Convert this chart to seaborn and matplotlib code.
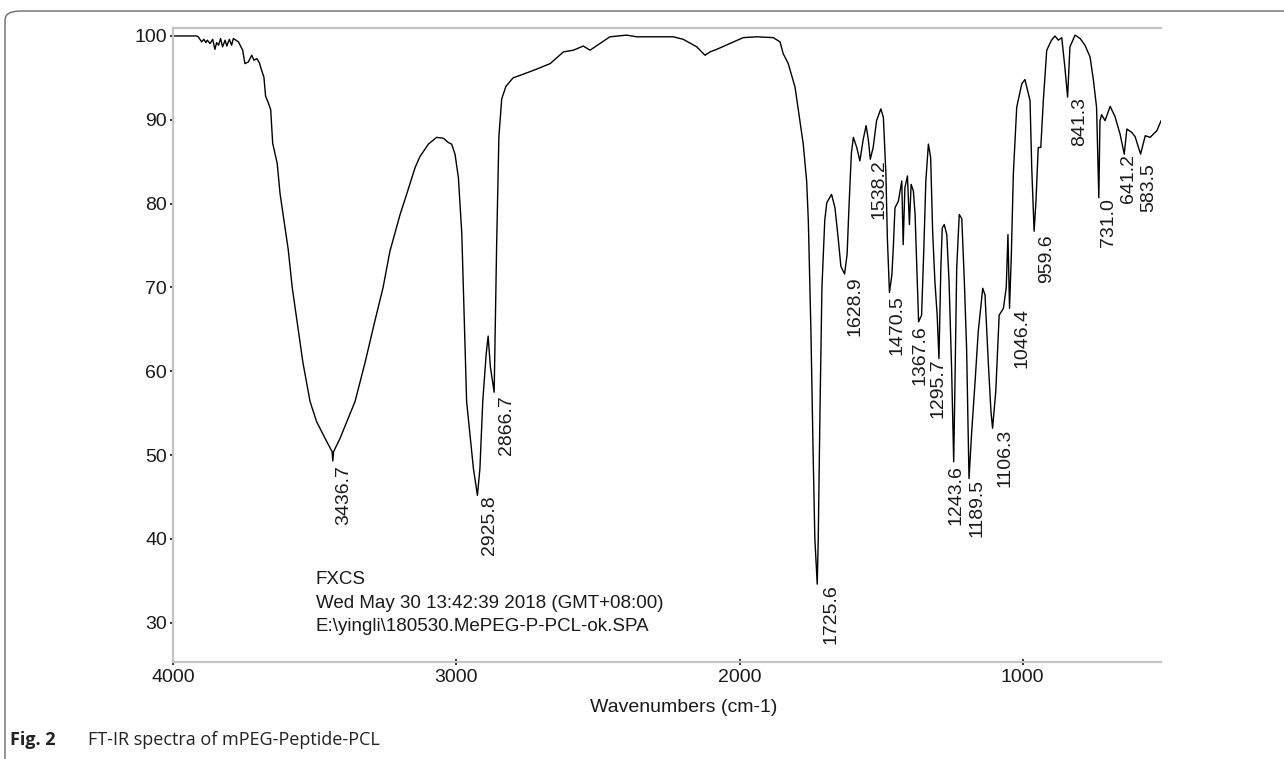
import matplotlib
matplotlib.use("Agg")
import matplotlib.pyplot as plt
from matplotlib.ticker import MultipleLocator, FixedLocator
from matplotlib.patches import FancyBboxPatch
import seaborn as sns
import pandas as pd

# ---------------- data ----------------
wavenumber = [
    4000, 3917, 3912, 3900, 3892, 3885, 3880, 3870, 3861, 3853, 3847, 3840, 3833, 3826, 3817,
    3811, 3802, 3794, 3788, 3779, 3770, 3764, 3755, 3747, 3735, 3723, 3715, 3705, 3696, 3688,
    3680, 3674, 3664, 3656, 3649, 3641, 3633, 3623, 3611, 3594, 3580, 3563, 3542, 3517, 3494,
    3464, 3445, 3439, 3436.7, 3434, 3411, 3382, 3358, 3323, 3288, 3259, 3235, 3199, 3176, 3146,
    3129, 3099, 3070, 3046, 3029, 3017, 3005, 2993, 2981, 2964, 2940, 2925.8, 2917, 2907, 2895,
    2888, 2880, 2866.7, 2858, 2850, 2840, 2825, 2800, 2775, 2720, 2669, 2622, 2587, 2552, 2528,
    2493, 2458, 2399, 2363, 2234, 2199, 2151, 2122, 2104, 2081, 2034, 1987, 1939, 1881, 1857,
    1846, 1828, 1804, 1787, 1775, 1763, 1757, 1748, 1740, 1734, 1725.6, 1722, 1720, 1716, 1709,
    1699, 1692, 1675, 1663, 1652, 1642, 1628.9, 1620, 1613, 1605, 1598, 1586, 1575, 1563, 1553,
    1545, 1538.2, 1528, 1516, 1501, 1492, 1483, 1478, 1470.5, 1462, 1457, 1451, 1439, 1427, 1422,
    1416, 1407, 1400, 1394, 1386, 1380, 1367.6, 1357, 1349, 1342, 1333, 1325, 1318, 1310, 1302,
    1295.7, 1289, 1284, 1277, 1268, 1260, 1251, 1243.6, 1239, 1233, 1224, 1215, 1206, 1198, 1189.5,
    1180, 1168, 1157, 1141, 1133, 1121, 1112, 1106.3, 1095, 1083, 1068, 1058, 1052, 1046.4, 1040,
    1033, 1021, 1003, 992, 974, 968, 959.6, 953, 945, 936, 927, 915, 898, 886, 874,
    862, 851, 841.3, 833, 815, 797, 780, 762, 750, 739, 731.0, 727, 721, 709, 691,
    674, 656, 641.2, 632, 615, 603, 583.5, 567, 550, 526, 511,
]
transmittance = [
    100.0, 100.0, 99.9, 99.3, 99.6, 99.2, 99.5, 99.1, 99.6, 98.4, 99.2, 98.9, 99.7, 98.7, 99.5,
    98.8, 99.6, 98.9, 99.7, 99.5, 99.3, 98.9, 98.3, 96.7, 96.9, 97.7, 97.1, 97.3, 96.8, 95.9,
    95.1, 92.8, 92.0, 91.2, 87.2, 86.0, 84.8, 81.2, 78.4, 74.5, 70.0, 66.0, 61.0, 56.4, 54.0,
    52.0, 50.8, 50.4, 49.3, 50.4, 52.0, 54.4, 56.4, 61.0, 66.0, 70.0, 74.3, 78.7, 81.1, 84.3,
    85.6, 87.1, 87.9, 87.8, 87.3, 87.1, 85.9, 83.1, 76.4, 56.4, 48.4, 45.2, 48.4, 56.4, 62.0,
    64.2, 60.5, 57.5, 75.0, 88.0, 92.5, 94.0, 95.0, 95.3, 96.0, 96.7, 98.1, 98.3, 98.8, 98.3,
    99.1, 99.9, 100.1, 99.9, 99.9, 99.6, 98.7, 97.7, 98.1, 98.4, 99.1, 99.8, 99.9, 99.8, 99.3,
    97.9, 96.7, 93.9, 89.9, 87.1, 82.7, 77.9, 65.0, 50.0, 40.0, 34.6, 40.0, 45.0, 55.0, 70.0,
    78.0, 80.1, 81.1, 79.5, 76.0, 72.5, 71.6, 74.0, 80.0, 86.0, 87.9, 86.7, 85.1, 87.7, 89.3,
    87.6, 85.3, 86.7, 89.9, 91.3, 90.3, 83.5, 76.0, 69.4, 71.5, 74.7, 79.5, 80.3, 82.7, 75.1,
    81.9, 83.3, 77.5, 82.3, 81.5, 78.7, 65.9, 66.7, 74.7, 82.7, 87.1, 85.5, 76.7, 70.7, 66.7,
    61.5, 72.3, 77.1, 77.5, 76.3, 70.7, 60.3, 49.2, 58.8, 72.3, 78.7, 78.2, 70.7, 62.7, 47.2,
    52.8, 58.8, 64.7, 69.9, 69.1, 60.8, 55.2, 53.2, 57.6, 66.7, 67.5, 70.0, 76.3, 67.5, 73.9,
    83.5, 91.5, 94.3, 94.8, 92.3, 84.3, 76.7, 80.3, 86.7, 86.7, 92.3, 98.3, 99.5, 100.0, 99.5,
    99.8, 96.3, 92.7, 98.7, 100.1, 99.7, 98.9, 97.5, 94.7, 91.5, 80.7, 89.9, 90.6, 89.9, 91.6,
    90.4, 88.3, 85.9, 88.9, 88.5, 88.0, 85.9, 88.1, 87.9, 88.7, 89.9,
]

peak_wn = [3436.7, 2925.8, 2866.7, 1725.6, 1628.9, 1538.2, 1470.5, 1367.6, 1295.7,
           1243.6, 1189.5, 1106.3, 1046.4, 959.6, 841.3, 731.0, 641.2, 583.5]
peak_T = [49.3, 45.2, 57.5, 34.6, 71.6, 85.3, 69.4, 65.9, 61.5,
          49.2, 47.2, 53.2, 67.5, 76.7, 92.7, 80.7, 85.9, 85.9]
# label offsets (pixels: right, down) relative to the peak
peak_offsets = [(2, 4), (4, 0), (4, 3), (5, 0), (2, 2), (0, 0), (-1, 3), (-7, 3), (-9, 0),
                (-6, 3), (-1, 0), (4, 0), (4, 0), (4, 3), (4, 0), (1, 0), (-4, 0), (0, 9)]

x_major = [4000, 3000, 2000, 1000]
y_major = [30, 40, 50, 60, 70, 80, 90, 100]

info_lines = ["FXCS",
              "Wed May 30 13:42:39 2018 (GMT+08:00)",
              "E:\\yingli\\180530.MePEG-P-PCL-ok.SPA"]
info_T = [35.1, 32.3, 29.5]

x_label = "Wavenumbers (cm-1)"
caption_bold = "Fig. 2"
caption_text = "FT-IR spectra of mPEG-Peptide-PCL"

# ---------------- style ----------------
sns.set_theme(style="white")
regular = ["Liberation Sans", "DejaVu Sans"]
plt.rcParams["font.family"] = regular

W, H = 1284, 759
fig = plt.figure(figsize=(W / 100, H / 100), dpi=100)
fig.patch.set_facecolor("white")

# outer rounded frame (top and left edges visible)
frame = FancyBboxPatch((5 / W, -30 / H), 1.2, (H - 11 + 30) / H,
                       boxstyle="round,pad=0,rounding_size=0.012",
                       transform=fig.transFigure, fill=False,
                       edgecolor="#6a6a6a", linewidth=1.0, clip_on=False)
fig.patches.append(frame)

left, right, top, bottom = 173.3, 1161, 28, 661.7
ax = fig.add_axes([left / W, 1 - bottom / H, (right - left) / W, (bottom - top) / H])

df = pd.DataFrame({"wavenumber": wavenumber, "transmittance": transmittance})
sns.lineplot(data=df, x="wavenumber", y="transmittance", sort=False, estimator=None,
             color="black", linewidth=1.0, ax=ax)

ax.set_xlim(4000, 511.4)
ax.set_ylim(25.35, 100.95)

ax.xaxis.set_major_locator(FixedLocator(x_major))
ax.xaxis.set_minor_locator(MultipleLocator(200))
ax.yaxis.set_major_locator(FixedLocator(y_major))
ax.yaxis.set_minor_locator(MultipleLocator(2))
ax.set_xticklabels([str(v) for v in x_major])
ax.set_yticklabels([str(v) for v in y_major])

for s in ["top", "left", "bottom"]:
    ax.spines[s].set_color("#c4c4c4")
    ax.spines[s].set_linewidth(1.6)
ax.spines["right"].set_visible(False)

ax.tick_params(axis="x", which="major", direction="inout", length=4, width=1.3,
               color="#222222", labelsize=14, labelcolor="#1a1a1a", pad=3,
               bottom=True, top=False)
ax.tick_params(axis="x", which="minor", direction="inout", length=2, width=1.3,
               color="#333333", bottom=True, top=False)
ax.tick_params(axis="y", which="major", direction="out", length=2.5, width=1.3,
               color="#222222", labelsize=14, labelcolor="#1a1a1a", pad=2,
               left=True, right=False)
ax.tick_params(axis="y", which="minor", direction="inout", length=2, width=1.3,
               color="#333333", left=True, right=False)

ax.set_xlabel(x_label, fontsize=14, color="#1a1a1a")
ax.xaxis.set_label_coords((684 - left) / (right - left), -(707 - bottom) / (bottom - top))
ax.xaxis.label.set_va("center")
ax.set_ylabel("")

# peak labels
for wn, t, (dx, dy) in zip(peak_wn, peak_T, peak_offsets):
    ax.annotate(f"{wn:.1f}", xy=(wn, t), xytext=(dx, -dy), textcoords="offset pixels",
                rotation=90, ha="left", va="top", fontsize=14, color="#1a1a1a",
                family=regular, annotation_clip=False)

# acquisition info block
for line, t in zip(info_lines, info_T):
    ax.text(3496, t, line, fontsize=13.5, color="#1a1a1a", ha="left", va="center")

# caption
fig.text(10 / W, 1 - 740 / H, caption_bold, fontsize=13, fontweight="bold",
         family=["Open Sans", "DejaVu Sans"], color="#222222", ha="left", va="center")
fig.text(88 / W, 1 - 740 / H, caption_text, fontsize=13,
         family=["Open Sans", "DejaVu Sans"], color="#222222", ha="left", va="center")

fig.savefig("out.png", dpi=100, facecolor="white")
